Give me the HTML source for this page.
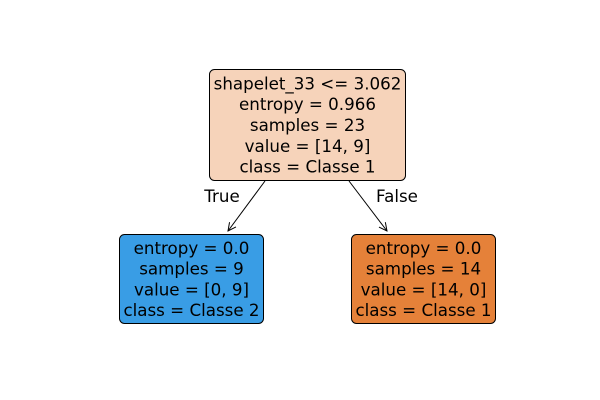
<!DOCTYPE html>
<html><head><meta charset="utf-8"><style>
html,body{margin:0;padding:0;background:#fff;}
svg{display:block;font-family:"DejaVu Sans","Liberation Sans",sans-serif;}
</style></head><body>
<svg width="600" height="400" viewBox="0 0 600 400">
<defs><marker id="ah" markerWidth="10" markerHeight="10" refX="9" refY="5" orient="auto" markerUnits="userSpaceOnUse"><path d="M1,1 L9,5 L1,9" fill="none" stroke="#000" stroke-width="1"/></marker></defs>
<g id="edges"></g>
<g id="nodes"></g>
</svg>
<script>
const nodeLabels = [
 ["shapelet_33 <= 3.062","entropy = 0.966","samples = 23","value = [14, 9]","class = Classe 1"],
 ["entropy = 0.0","samples = 9","value = [0, 9]","class = Classe 2"],
 ["entropy = 0.0","samples = 14","value = [14, 0]","class = Classe 1"]
];
const nodeColors = ["#f6d3ba","#399de5","#e58139"];
const nodeNames = ["root-node","left-leaf-node","right-leaf-node"];
const boxes = [[209.5,69.5,196,111],[119.5,234.5,144,89],[351.5,234.5,144,89]];
const edgeLabels = ["True","False"];
const NS="http://www.w3.org/2000/svg";
const FS='16.7';
const gN=document.getElementById('nodes'), gE=document.getElementById('edges');
nodeLabels.forEach((lines,i)=>{
  const [x,y,w,h]=boxes[i];
  const g=document.createElementNS(NS,'g');
  
  
  const r=document.createElementNS(NS,'rect');
  r.setAttribute('x',x);r.setAttribute('y',y);r.setAttribute('width',w);r.setAttribute('height',h);
  r.setAttribute('rx',5);r.setAttribute('fill',nodeColors[i]);r.setAttribute('stroke','#000');r.setAttribute('stroke-width','1');
  g.appendChild(r);
  const lh=20.8, cy=y+h/2, start=cy-(lines.length-1)*lh/2;
  lines.forEach((t,j)=>{
    const tx=document.createElementNS(NS,'text');
    
    
    tx.setAttribute('x',x+w/2);tx.setAttribute('y',start+j*lh+6);
    tx.setAttribute('text-anchor','middle');tx.setAttribute('font-size',FS);
    tx.textContent=t;g.appendChild(tx);
  });
  gN.appendChild(g);
});
const edges=[[265,181,228,231,222,202],[349,181,387,231,397,202]];
edges.forEach((e,i)=>{
  const l=document.createElementNS(NS,'line');
  
  
  l.setAttribute('x1',e[0]);l.setAttribute('y1',e[1]);l.setAttribute('x2',e[2]);l.setAttribute('y2',e[3]);
  l.setAttribute('stroke','#000');l.setAttribute('stroke-width','1');l.setAttribute('marker-end','url(#ah)');
  gE.appendChild(l);
  const t=document.createElementNS(NS,'text');
  
  
  t.setAttribute('x',e[4]);t.setAttribute('y',e[5]);t.setAttribute('text-anchor','middle');t.setAttribute('font-size',FS);
  t.textContent=edgeLabels[i];gE.appendChild(t);
});
</script>
</body></html>
